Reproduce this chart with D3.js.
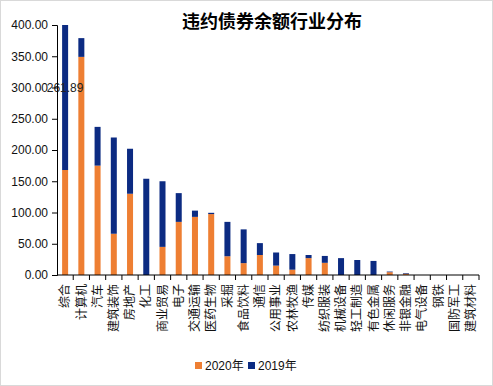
<!DOCTYPE html>
<html>
<head>
<meta charset="utf-8">
<script src="https://cdn.jsdelivr.net/npm/d3@7"></script>
<style>
  body { margin: 0; background: #fff; }
  svg text { font-family: "Liberation Sans", Arial, "Noto Sans CJK SC", sans-serif; }
</style>
</head>
<body>
<div id="chart"></div>
<script>
// data
var industries = ["综合", "计算机", "汽车", "建筑装饰", "房地产", "化工", "商业贸易", "电子", "交通运输", "医药生物",
                  "采掘", "食品饮料", "通信", "公用事业", "农林牧渔", "传媒", "纺织服装", "机械设备", "轻工制造", "有色金属",
                  "休闲服务", "非银金融", "电气设备", "钢铁", "国防军工", "建筑材料"];
var values2020 = [168, 349, 175, 66, 130, 0, 45, 85, 93, 97.5,
                  30, 19, 32, 15, 8.5, 27, 19.5, 0, 0, 0,
                  4.5, 2, 0, 0, 0, 0];
var values2019 = [261.89, 30, 62, 154, 72, 154, 105, 46, 10, 2,
                  55, 54, 19, 21, 25, 5, 11, 27, 24, 22.5,
                  1, 1, 0, 0, 0, 0];
var seriesNames = ["2020年", "2019年"];
var seriesColours = ["#ee7f33", "#0c2b82"];
var yTicks = [0, 50, 100, 150, 200, 250, 300, 350, 400];

var W = 493, H = 386;
var margin = { top: 25, right: 14, bottom: 111, left: 57 },
    width = W - margin.left - margin.right,
    height = H - margin.top - margin.bottom;

var svg = d3.select("#chart").append("svg")
    .attr("width", W)
    .attr("height", H);

// outer frame
svg.append("rect")
    .attr("x", 0.5).attr("y", 0.5)
    .attr("width", W - 1).attr("height", H - 1)
    .attr("fill", "#fff").attr("stroke", "#d9d9d9");

// title
svg.append("text")
    .attr("x", 272).attr("y", 28)
    .attr("text-anchor", "middle")
    .attr("font-size", "18px")
    .attr("font-weight", "bold")
    .style("font-family", "'Noto Sans CJK SC', sans-serif")
    .text("违约债券余额行业分布");

var g = svg.append("g")
    .attr("transform", "translate(" + margin.left + "," + margin.top + ")");

// scales
var x = d3.scaleBand().domain(industries).range([0, width]).paddingInner(0.63).paddingOuter(0.315);
var xb = d3.scaleBand().domain(industries).range([0, width]);
var y = d3.scaleLinear().domain([0, 400]).range([height, 0]);

g.append("clipPath").attr("id", "plot-clip")
    .append("rect").attr("width", width).attr("height", height);

// stacked bars
var rows = industries.map(function(d, i) { return { industry: d, s2020: values2020[i], s2019: values2019[i] }; });
var stack = d3.stack().keys(["s2020", "s2019"])(rows);

g.append("g").attr("clip-path", "url(#plot-clip)")
  .selectAll("g")
  .data(stack)
  .enter().append("g")
    .attr("fill", function(d, i) { return seriesColours[i]; })
  .selectAll("rect")
  .data(function(d) { return d; })
  .enter().append("rect")
    .attr("x", function(d) { return x(d.data.industry); })
    .attr("width", x.bandwidth())
    .attr("y", function(d) { return y(d[1]); })
    .attr("height", function(d) { return y(d[0]) - y(d[1]); });

// data label on the clipped bar
g.append("text")
    .attr("x", x(industries[0]) + x.bandwidth() / 2)
    .attr("y", y(values2020[0] + values2019[0] / 2))
    .attr("dy", "0.35em")
    .attr("text-anchor", "middle")
    .attr("font-size", "12px")
    .attr("fill", "#222")
    .text(values2019[0].toFixed(2));

// y axis
var axisY = g.append("g")
    .call(d3.axisLeft(y).tickValues(yTicks).tickSize(5).tickPadding(4).tickFormat(d3.format(".2f")));
axisY.selectAll("text").attr("font-size", "12px").attr("fill", "#111")
    .style("font-family", "'Liberation Sans', Arial, sans-serif");
axisY.select(".domain").attr("stroke", "#000");
axisY.selectAll(".tick line").attr("stroke", "#000");

// x axis: tick marks between categories
var axisX = g.append("g")
    .attr("transform", "translate(0," + height + ")");
axisX.append("line").attr("x1", 0).attr("x2", width).attr("stroke", "#000");
axisX.selectAll(".sep")
    .data(industries)
    .enter().append("line")
    .attr("class", "sep")
    .attr("x1", function(d) { return xb(d) + xb.bandwidth(); })
    .attr("x2", function(d) { return xb(d) + xb.bandwidth(); })
    .attr("y1", 0).attr("y2", 5)
    .attr("stroke", "#000");
axisX.selectAll(".lab")
    .data(industries)
    .enter().append("text")
    .attr("class", "lab")
    .attr("transform", function(d) { return "translate(" + (xb(d) + xb.bandwidth() / 2) + ",9) rotate(-90)"; })
    .attr("dy", "0.35em")
    .attr("text-anchor", "end")
    .attr("font-size", "12px")
    .attr("fill", "#111")
    .style("font-family", "'Noto Sans CJK SC', sans-serif")
    .text(function(d) { return d; });

// legend
var legendX = [195, 248];
var legend = svg.append("g").selectAll("g")
    .data(seriesNames)
    .enter().append("g")
    .attr("transform", function(d, i) { return "translate(" + legendX[i] + ",362)"; });
legend.append("rect")
    .attr("width", 7).attr("height", 7)
    .attr("fill", function(d, i) { return seriesColours[i]; });
legend.append("text")
    .attr("x", 10).attr("y", 4).attr("dy", "0.35em")
    .attr("font-size", "12px")
    .attr("fill", "#111")
    .text(function(d) { return d; });
</script>
</body>
</html>
